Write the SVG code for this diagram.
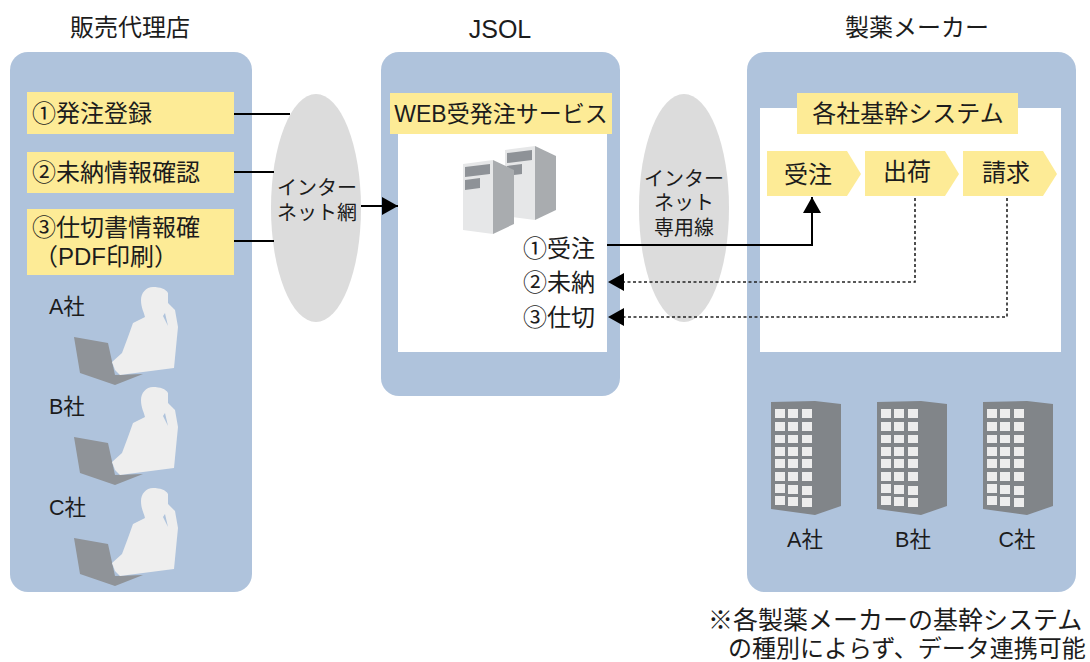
<svg xmlns="http://www.w3.org/2000/svg" xmlns:xlink="http://www.w3.org/1999/xlink" width="1090" height="662" viewBox="0 0 1090 662">
<style>
text{font-family:"Liberation Sans","Noto Sans CJK JP",sans-serif;fill:#1c1c1c;font-size:24px}
.m{text-anchor:middle}
.s{font-size:20px}
.c{font-size:21.5px}
.panel{fill:#afc3dc}
.y{fill:#fdeb96}
.w{fill:#fff}
.net{fill:#dcdcdc}
.l{fill:none;stroke:#000;stroke-width:2}
.d{fill:none;stroke:#222;stroke-width:1.6;stroke-dasharray:3 2.5}
</style>
<defs>
<marker id="a" markerUnits="userSpaceOnUse" markerWidth="18" markerHeight="20" refX="16" refY="9" orient="auto"><path d="M0 0L16 9L0 18Z" fill="#000"/></marker>
<g id="person">
<path d="M74 337L108 343L115 375L143 374L115 385L80 373Z" fill="#8f9398"/>
<path d="M153 287C146 287 141 293 141 300C141 308 144 312 145 317L133 323L128 337L122 353L112 362L115 370L120 375L143 372L174 368L177 337L178 327L175 310L168 303L168 293C166 289 160 287 153 287Z" fill="#eeeeee"/>
<path d="M163 316L168 326L165 313Z" fill="#afc3dc"/>
</g>
<g id="bldg">
<path d="M771 402L815 401L841 404V506L815 515L771 509Z" fill="#818589"/>
<g fill="#ededed">
<path d="M775 409h10v9h-10zM788 409h10v9h-10zM802 409h10v9h-10zM775 422h10v9h-10zM788 422h10v9h-10zM802 422h10v9h-10zM775 435h10v8h-10zM788 435h10v8h-10zM802 435h10v8h-10zM775 447h10v9h-10zM788 447h10v9h-10zM802 447h10v9h-10zM775 459h10v9h-10zM788 459h10v9h-10zM802 459h10v9h-10zM775 472h10v9h-10zM788 472h10v9h-10zM802 472h10v9h-10zM775 484h10v9h-10zM788 485h10v9h-10zM802 486h10v9h-10zM775 496h10v9h-10zM788 497h10v9h-10zM802 498h10v9h-10z"/>
</g>
</g>
<g id="srv">
<path d="M0 4L30 0L30 74L0 70Z" fill="#e6e7e8"/>
<path d="M30 0L51 10V64L30 74Z" fill="#a9acaf"/>
<path d="M2 7L27 4V14L2 17ZM2 20L17 18V28L2 30Z" fill="#8e9297"/>
</g>
</defs>

<g id="panel-dealer"><rect class="panel" x="10" y="52" width="242" height="540" rx="18"/></g>
<g id="panel-jsol"><rect class="panel" x="381" y="52" width="239" height="344" rx="18"/><rect class="w" x="398" y="108" width="209" height="244"/></g>
<g id="panel-maker"><rect class="panel" x="747" y="52" width="329" height="540" rx="18"/><rect class="w" x="760" y="108" width="301" height="244"/></g>

<g id="net1"><ellipse class="net" cx="316" cy="208" rx="45" ry="114"/><text class="m s" x="317" y="195">インター</text><text class="m s" x="317" y="220">ネット網</text></g>
<g id="net2"><ellipse class="net" cx="684" cy="208" rx="45" ry="114"/><text class="m s" x="684" y="186">インター</text><text class="m s" x="684" y="210">ネット</text><text class="m s" x="684" y="235">専用線</text></g>

<g id="connectors">
<path class="l" d="M234 114H290M234 172H274M234 241H274"/>
<path class="l" d="M361 206H398" marker-end="url(#a)"/>
<path class="l" d="M607 245H812V197" marker-end="url(#a)"/>
<path class="d" d="M915 198V282H624"/>
<path class="d" d="M1007 198V317H624"/>
<path d="M624 273L608 282L624 291ZM624 308L608 317L624 326Z" fill="#000"/>
</g>

<g id="title-dealer"><text class="m" x="130" y="36">販売代理店</text></g>
<g id="title-jsol"><text class="m" x="500" y="38" style="font-size:25px">JSOL</text></g>
<g id="title-maker"><text class="m" x="917" y="36">製薬メーカー</text></g>

<g id="order"><rect class="y" x="27" y="92" width="207" height="42"/><text x="32" y="122">①発注登録</text></g>
<g id="unpaid"><rect class="y" x="27" y="152" width="207" height="41"/><text x="32" y="181">②未納情報確認</text></g>
<g id="invoice"><rect class="y" x="27" y="209" width="207" height="66"/><text x="32" y="236">③仕切書情報確</text><text x="34" y="265">（PDF印刷）</text></g>

<g id="dealer-a"><use xlink:href="#person" href="#person"/><text x="49" y="314" class="c">A社</text></g>
<g id="dealer-b"><use xlink:href="#person" href="#person" y="100"/><text x="49" y="414" class="c">B社</text></g>
<g id="dealer-c"><use xlink:href="#person" href="#person" y="201"/><text x="49" y="515" class="c">C社</text></g>

<g id="web"><rect class="y" x="390" y="93" width="222" height="41"/><text class="m" x="501" y="122" style="font-size:23px">WEB受発注サービス</text></g>
<g id="servers"><use xlink:href="#srv" href="#srv" x="505" y="146"/><use xlink:href="#srv" href="#srv" x="463" y="160"/></g>
<g id="svc1"><text x="523" y="257">①受注</text></g>
<g id="svc2"><text x="523" y="291">②未納</text></g>
<g id="svc3"><text x="523" y="326">③仕切</text></g>

<g id="core"><rect class="y" x="797" y="93" width="221" height="41"/><text class="m" x="908" y="122">各社基幹システム</text></g>
<g id="step1"><path class="y" d="M767 151H847L861 174L847 196H767Z"/><text class="m" x="808" y="183">受注</text></g>
<g id="step2"><path class="y" d="M865 151H945L959 174L945 196H865Z"/><text class="m" x="907" y="180">出荷</text></g>
<g id="step3"><path class="y" d="M963 151H1043L1057 174L1043 196H963Z"/><text class="m" x="1006" y="181">請求</text></g>

<g id="maker-a"><use xlink:href="#bldg" href="#bldg"/><text class="m c" x="805" y="547">A社</text></g>
<g id="maker-b"><use xlink:href="#bldg" href="#bldg" x="106"/><text class="m c" x="913" y="547">B社</text></g>
<g id="maker-c"><use xlink:href="#bldg" href="#bldg" x="212"/><text class="m c" x="1017" y="547">C社</text></g>

<g id="note"><text x="708" y="629" style="font-size:25px">※各製薬メーカーの基幹システム</text><text x="728" y="657">の種別によらず、データ連携可能</text></g>
</svg>
